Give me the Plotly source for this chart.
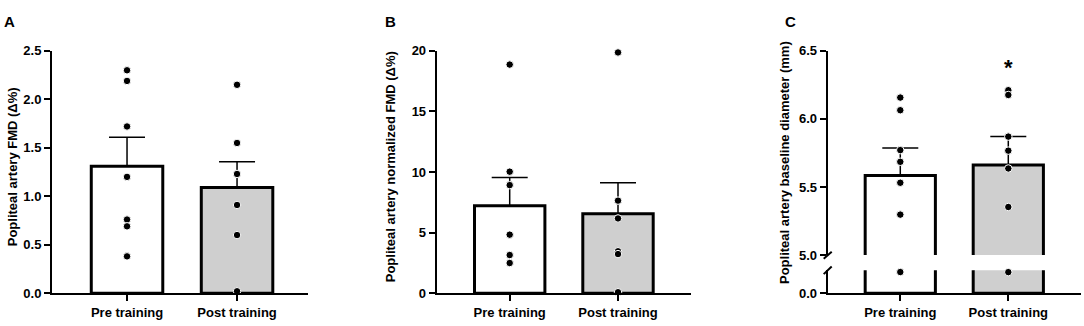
import plotly.graph_objects as go

# ---------------- data ----------------
categories = ["Pre training", "Post training"]

fmd_means = [1.31, 1.09]
fmd_sem = [0.30, 0.265]
fmd_pre = [2.30, 2.19, 1.72, 1.20, 0.76, 0.69, 0.38]
fmd_post = [2.15, 1.55, 1.23, 0.91, 0.60, 0.02]

norm_means = [7.22, 6.56]
norm_sem = [2.33, 2.55]
norm_pre = [18.87, 10.03, 8.92, 4.83, 3.15, 2.49]
norm_post = [19.87, 7.64, 6.17, 3.46, 3.23, 0.08]

diam_means = [5.584, 5.661]
diam_sem = [0.203, 0.209]
diam_pre = [6.157, 6.064, 5.771, 5.685, 5.531, 5.297, 4.62]
diam_post = [6.211, 6.176, 5.870, 5.767, 5.636, 5.353, 4.60]

bar_fills = ["#ffffff", "#cfcfcf"]

# ---------------- layout helpers ----------------
W, H = 1084, 326
FONT = "Arial, Liberation Sans, sans-serif"


def px_x(p):
    return p / W


def px_y(p):
    return 1 - p / H


fig = go.Figure()

marker_style = dict(color="black", size=7.5, line=dict(color="white", width=1))
bar_marker = dict(color=bar_fills, line=dict(color="black", width=3))


def add_panel(xa, ya, means, sem, groups):
    fig.add_trace(go.Bar(
        x=[0, 1], y=means, width=0.65, marker=bar_marker,
        error_y=dict(type="data", array=sem, arrayminus=[0, 0], symmetric=False,
                     color="black", thickness=1.5, width=18),
        xaxis=xa, yaxis=ya, showlegend=False, hoverinfo="skip",
    ))
    for i, vals in enumerate(groups):
        fig.add_trace(go.Scatter(
            x=[i] * len(vals), y=vals, mode="markers", marker=marker_style,
            xaxis=xa, yaxis=ya, showlegend=False, cliponaxis=False,
        ))


# Panel A
add_panel("x", "y", fmd_means, fmd_sem, [fmd_pre, fmd_post])
# Panel B
add_panel("x2", "y2", norm_means, norm_sem, [norm_pre, norm_post])
# Panel C upper segment (5.0 - 6.5)
fig.add_trace(go.Bar(
    x=[0, 1], y=diam_means, width=0.65, marker=bar_marker,
    error_y=dict(type="data", array=diam_sem, arrayminus=[0, 0], symmetric=False,
                 color="black", thickness=1.5, width=18),
    xaxis="x3", yaxis="y3", showlegend=False, hoverinfo="skip",
))
# Panel C lower segment (0 - 5.0)
fig.add_trace(go.Bar(
    x=[0, 1], y=diam_means, width=0.65, marker=bar_marker,
    xaxis="x3", yaxis="y4", showlegend=False, hoverinfo="skip",
))
for i, vals in enumerate([diam_pre, diam_post]):
    hi = [v for v in vals if v >= 5.0]
    lo = [v for v in vals if v < 5.0]
    fig.add_trace(go.Scatter(
        x=[i] * len(hi), y=hi, mode="markers", marker=marker_style,
        xaxis="x3", yaxis="y3", showlegend=False, cliponaxis=False,
    ))
    fig.add_trace(go.Scatter(
        x=[i] * len(lo), y=lo, mode="markers", marker=marker_style,
        xaxis="x3", yaxis="y4", showlegend=False, cliponaxis=False,
    ))

axis_common = dict(showgrid=False, zeroline=False, showline=True, linecolor="black",
                   linewidth=2, ticks="outside", ticklen=6, tickwidth=2,
                   tickcolor="black", fixedrange=True)
xfont = dict(family=FONT, size=13, color="black", weight="bold")
yfont = dict(family=FONT, size=13, color="black", weight="bold")

ydom = [px_y(300), px_y(46)]

fig.update_layout(
    width=W, height=H,
    margin=dict(l=0, r=0, t=0, b=0),
    paper_bgcolor="white", plot_bgcolor="white",
    barmode="overlay",
    font=dict(family=FONT, color="black"),
    xaxis=dict(**axis_common, domain=[px_x(52), px_x(308)], range=[-0.682, 1.645],
               tickvals=[0, 1], ticktext=categories, tickfont=xfont, anchor="y"),
    yaxis=dict(**axis_common, domain=ydom, range=[0, 2.5],
               tickvals=[0, 0.5, 1.0, 1.5, 2.0, 2.5], tickformat=".1f",
               tickfont=yfont, anchor="x"),
    xaxis2=dict(**axis_common, domain=[px_x(436.7), px_x(691)], range=[-0.674, 1.674],
                tickvals=[0, 1], ticktext=categories, tickfont=xfont, anchor="y2"),
    yaxis2=dict(**axis_common, domain=ydom, range=[0, 20],
                tickvals=[0, 5, 10, 15, 20], tickfont=yfont, anchor="x2"),
    xaxis3=dict(**axis_common, domain=[px_x(827.7), px_x(1081)], range=[-0.672, 1.673],
                tickvals=[0, 1], ticktext=categories, tickfont=xfont, anchor="y4"),
    yaxis3=dict(**axis_common, domain=[px_y(260), px_y(46)], range=[5.0, 6.5],
                tickvals=[5.0, 5.5, 6.0, 6.5], tickformat=".1f",
                tickfont=yfont, anchor="x3"),
    yaxis4=dict(**axis_common, domain=[px_y(300), px_y(276)], range=[0, 5.0],
                tickvals=[0], tickformat=".1f", tickfont=yfont, anchor="x3"),
)

# axis titles and panel letters
titles = [
    ("Popliteal artery FMD (Δ%)", 12, 168),
    ("Popliteal artery normalized FMD (Δ%)", 390, 168),
    ("Popliteal artery baseline diameter (mm)", 784.5, 163),
]
for text, xp, yp in titles:
    fig.add_annotation(text=text, x=px_x(xp), y=px_y(yp), xref="paper", yref="paper",
                       textangle=-90, showarrow=False, xanchor="center", yanchor="middle",
                       font=dict(family=FONT, size=13, color="black", weight="bold"))

for letter, xp in [("A", 9), ("B", 390), ("C", 790)]:
    fig.add_annotation(text=letter, x=px_x(xp), y=px_y(15), xref="paper", yref="paper",
                       showarrow=False, xanchor="center", yanchor="middle",
                       font=dict(family=FONT, size=15, color="black", weight="bold"))

# significance star above post-training diameter
fig.add_annotation(text="*", x=1, y=6.38, xref="x3", yref="y3", showarrow=False,
                   xanchor="center", yanchor="middle",
                   font=dict(family=FONT, size=22, color="black", weight="bold"))

# axis break marks
ax_x = 827.7
for y0, y1 in [(264, 256.5), (280, 272)]:
    fig.add_shape(type="line", xref="paper", yref="paper",
                  x0=px_x(ax_x - 4), y0=px_y(y0), x1=px_x(ax_x + 4), y1=px_y(y1),
                  line=dict(color="black", width=2))

page_fix = (
    "var de=document.documentElement, b=document.body;"
    "de.style.margin='0';de.style.padding='0';de.style.overflow='hidden';"
    "de.style.height='326px';"
    "b.style.margin='0';b.style.padding='0';b.style.overflow='hidden';"
    "b.style.height='326px';"
    "var gd=document.getElementById('{plot_id}');"
    "gd.style.position='fixed';gd.style.top='0px';gd.style.left='0px';"
)

fig.write_html("out.html", config={"displayModeBar": False, "responsive": False},
               post_script=page_fix)
